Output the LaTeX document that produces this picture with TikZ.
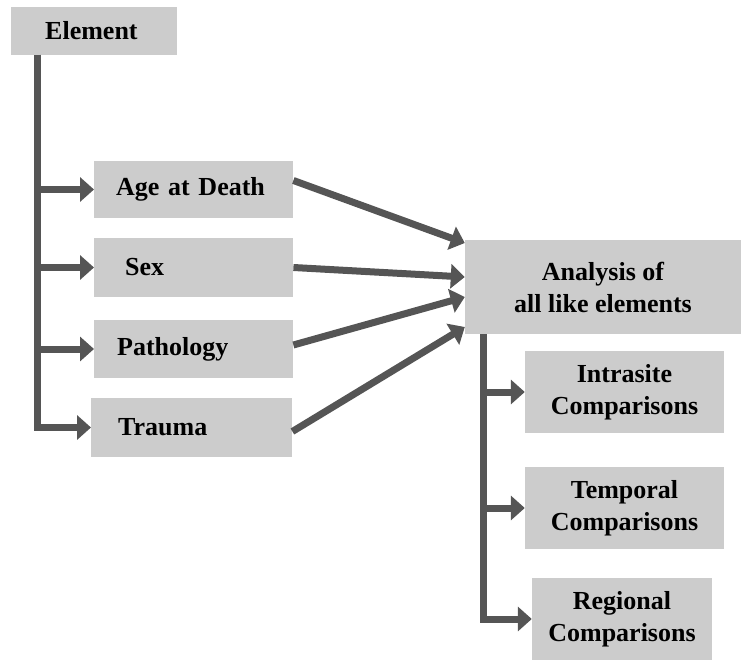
\documentclass[tikz,border=0pt]{standalone}
\usepackage{fontspec}
\setmainfont{Liberation Serif}
\usetikzlibrary{arrows.meta}

\definecolor{boxgray}{RGB}{204,204,204}
\definecolor{linkgray}{RGB}{85,85,85}

\begin{document}
\begin{tikzpicture}[x=1pt,y=-1pt,
        every node/.style={shape=rectangle,fill=boxgray,inner ysep=0pt,font=\fontsize{26}{32}\selectfont\bfseries},
        lbox/.style={anchor=west,align=left},
        rbox/.style={align=center},
        every edge/.style={draw=linkgray,line width=7pt,line join=miter,-{Triangle[length=14pt,width=24pt]}},
        elbow/.style={to path={|- (\tikztotarget)}},
        ]
\useasboundingbox (0,0) rectangle (741,660);

\node [lbox,inner xsep=34pt,text width=98pt,minimum height=48pt] (elem) at (11,31) {Element};

\node [lbox,inner xsep=22pt,text width=155pt,minimum height=57pt] (age) at (94,189.5) {Age at Death};
\node [lbox,inner xsep=31pt,text width=137pt,minimum height=59pt] (sex) at (94,267.5) {Sex};
\node [lbox,inner xsep=23pt,text width=153pt,minimum height=58pt] (patho) at (94,349) {Pathology};
\node [lbox,inner xsep=27pt,text width=147pt,minimum height=59pt] (trauma) at (91,427.5) {Trauma};

\node [rbox,minimum width=276pt,minimum height=94pt] (analysis) at (603,287) {Analysis of\\all like elements};
\node [rbox,minimum width=199pt,minimum height=82pt] (intra) at (624.5,392) {Intrasite\\Comparisons};
\node [rbox,minimum width=199pt,minimum height=82pt] (tempo) at (624.5,508) {Temporal\\Comparisons};
\node [rbox,minimum width=180pt,minimum height=82pt] (regio) at (622,619) {Regional\\Comparisons};

\coordinate (ltop) at (37,55);
\coordinate (rtop) at (483,334);

    % element to its four observations
    \path (ltop) edge[elbow] (age.west);
    \path (ltop) edge[elbow] (sex.west);
    \path (ltop) edge[elbow] (patho.west);
    \path (ltop) edge[elbow] (trauma.west);

    % observations to analysis
    \path ([yshift=9pt]age.east) edge ([yshift=44pt]analysis.west);
    \path (sex.east) edge ([yshift=10pt]analysis.west);
    \path ([yshift=4pt]patho.east) edge ([yshift=-10pt]analysis.west);
    \path ([yshift=-4pt]trauma.east) edge ([yshift=-40pt]analysis.west);

    % analysis to comparisons
    \path (rtop) edge[elbow] (intra.west);
    \path (rtop) edge[elbow] (tempo.west);
    \path (rtop) edge[elbow] (regio.west);

\end{tikzpicture}
\end{document}
